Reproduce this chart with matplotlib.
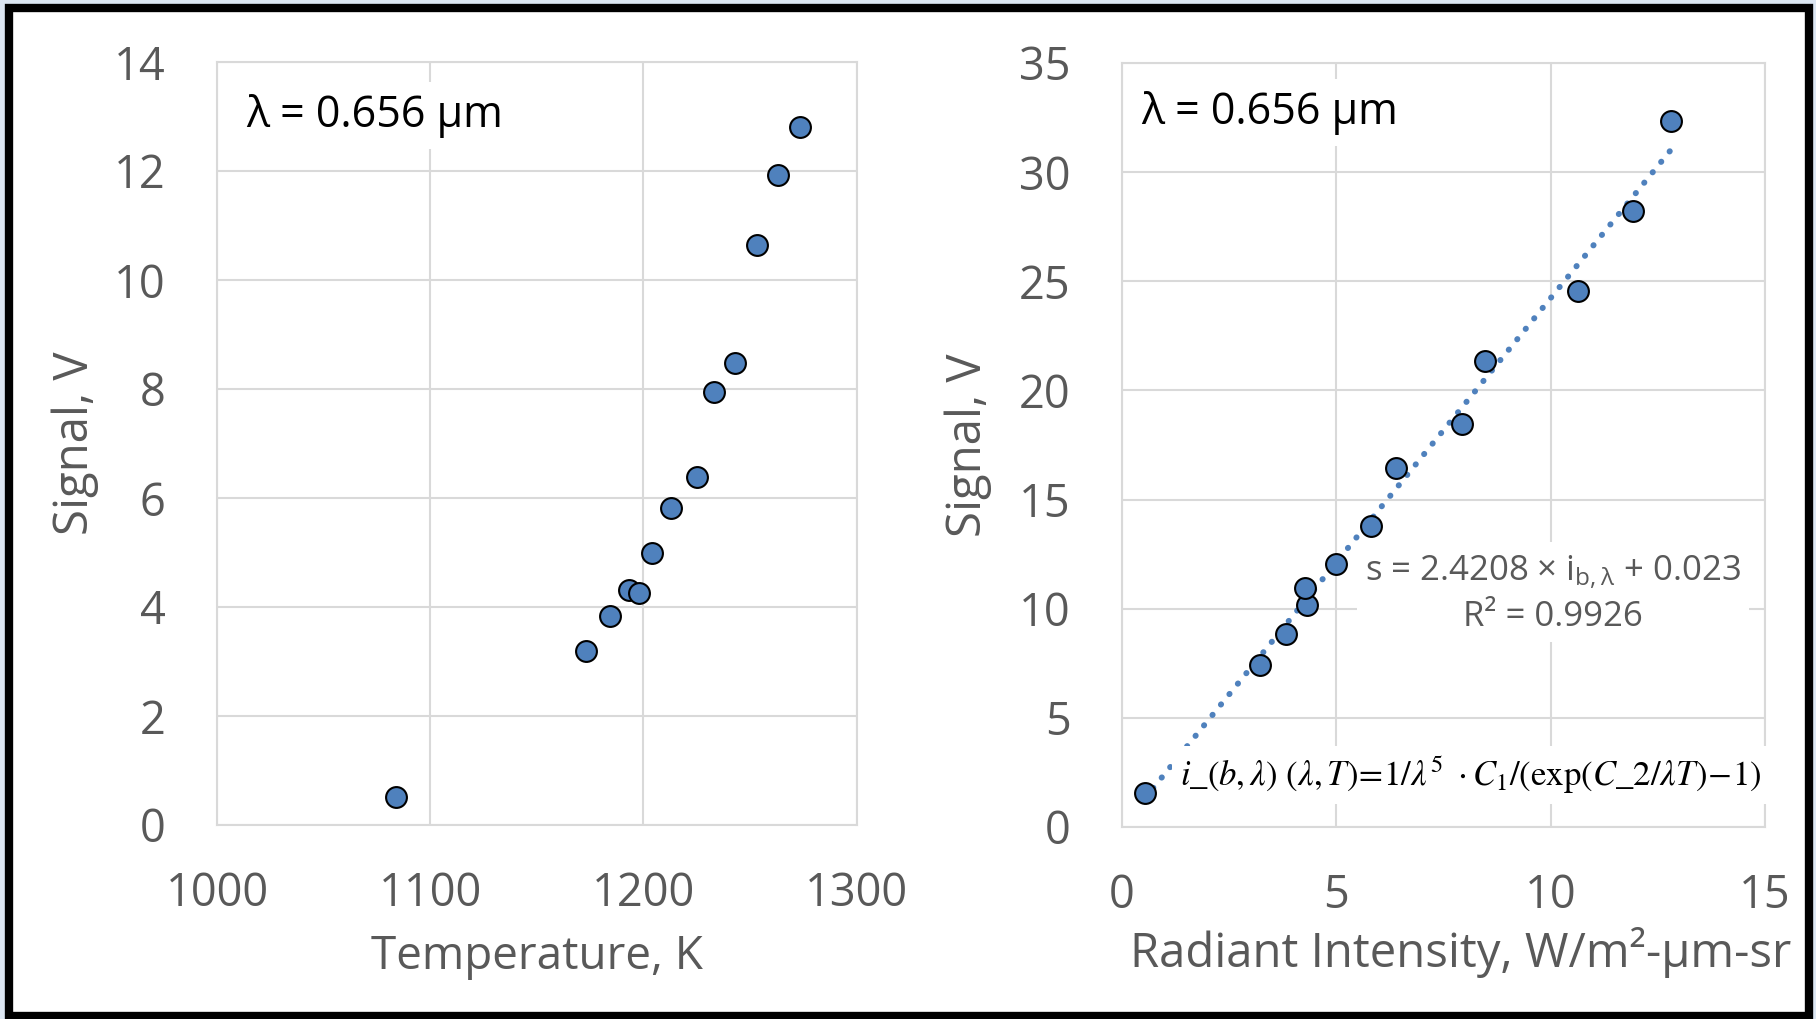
import numpy as np
import matplotlib
matplotlib.use("Agg")
import matplotlib.pyplot as plt
from matplotlib.patches import Rectangle

# data
temperature = [1084.0, 1173.2, 1184.2, 1193.4, 1197.9, 1203.9, 1213.0,
               1225.1, 1233.2, 1243.2, 1253.4, 1263.4, 1273.3]
signal_t = [0.52, 3.20, 3.84, 4.32, 4.26, 5.00, 5.81,
            6.38, 7.95, 8.47, 10.64, 11.93, 12.81]

intensity = [0.53, 3.22, 3.83, 4.32, 4.26, 5.00, 5.80,
             6.39, 7.94, 8.47, 10.63, 11.92, 12.81]
signal_i = [1.57, 7.43, 8.85, 10.19, 10.96, 12.06, 13.79,
            16.43, 18.48, 21.33, 24.54, 28.20, 32.35]

# trendline given on the chart
slope, intercept, r2 = 2.4208, 0.023, 0.9926

left_xticks = [1000, 1100, 1200, 1300]
left_yticks = [0, 2, 4, 6, 8, 10, 12, 14]
right_xticks = [0, 5, 10, 15]
right_yticks = [0, 5, 10, 15, 20, 25, 30, 35]

plt.rcParams['font.family'] = ['Open Sans', 'DejaVu Sans']
plt.rcParams['mathtext.fontset'] = 'custom'
plt.rcParams['mathtext.rm'] = 'Open Sans'
plt.rcParams['mathtext.it'] = 'Open Sans:italic'

GRAY = '#595959'
GRID = '#D9D9D9'
BLUE = '#4F81BD'

W, H = 1816, 1019
fig = plt.figure(figsize=(W / 100, H / 100), dpi=100)
fig.patch.set_facecolor('#DCE6F2')
fig.patches.append(Rectangle((9 / W, 3 / H), 1800 / W, 1008.5 / H,
                             transform=fig.transFigure, facecolor='white',
                             edgecolor='black', linewidth=6, zorder=-10))


def style_axes(ax, xticks, yticks):
    ax.set_facecolor('none')
    ax.set_xticks(xticks)
    ax.set_yticks(yticks)
    ax.set_xlim(xticks[0], xticks[-1])
    ax.set_ylim(yticks[0], yticks[-1])
    ax.grid(True, color=GRID, linewidth=1.5)
    ax.set_axisbelow(True)
    for s in ax.spines.values():
        s.set_color(GRID)
        s.set_linewidth(1.5)
    ax.tick_params(length=0, labelsize=32.5, labelcolor=GRAY)
    ax.tick_params(axis='y', pad=37)
    ax.tick_params(axis='x', pad=33)


# left: signal vs temperature
ax1 = fig.add_axes([217 / W, 1 - 825 / H, 639.5 / W, 763 / H])
style_axes(ax1, left_xticks, left_yticks)
ax1.plot(temperature, signal_t, 'o', ms=15, mfc=BLUE, mec='black', mew=1.5, zorder=3)
ax1.set_xlabel('Temperature, K', fontsize=33, color=GRAY)
ax1.set_ylabel('Signal, V', fontsize=34, color=GRAY)
ax1.xaxis.set_label_coords(0.5, -0.173)
ax1.xaxis.label.set_va('center')
ax1.yaxis.set_label_coords(-0.222, 0.5)
ax1.yaxis.label.set_va('center')
ax1.text(0.045, 0.93, 'λ = 0.656 μm', transform=ax1.transAxes, fontsize=31,
         color='black', va='center', ha='left', zorder=4,
         bbox=dict(facecolor='white', edgecolor='none', pad=8))

# right: signal vs radiant intensity
ax2 = fig.add_axes([1122 / W, 1 - 827 / H, 643 / W, 764 / H])
style_axes(ax2, right_xticks, right_yticks)
xs = np.array([min(intensity), max(intensity)])
ax2.plot(xs, slope * xs + intercept, color=BLUE, lw=4.3,
         linestyle=(0, (0.05, 2.2)), dash_capstyle='round', zorder=2)
ax2.plot(intensity, signal_i, 'o', ms=15, mfc=BLUE, mec='black', mew=1.5, zorder=3)
ax2.set_xlabel('Radiant Intensity, W/m²-μm-sr', fontsize=34, color=GRAY)
ax2.set_ylabel('Signal, V', fontsize=34, color=GRAY)
ax2.xaxis.set_label_coords(0.527, -0.164)
ax2.xaxis.label.set_va('center')
ax2.yaxis.set_label_coords(-0.2395, 0.5)
ax2.yaxis.label.set_va('center')
ax2.text(0.03, 0.935, 'λ = 0.656 μm', transform=ax2.transAxes, fontsize=31,
         color='black', va='center', ha='left', zorder=4,
         bbox=dict(facecolor='white', edgecolor='none', pad=8))
ax2.text(0.67, 0.306,
         's = %.4f × i$_{\\mathrm{b,λ}}$ + %.3f\nR² = %.4f' % (slope, intercept, r2),
         transform=ax2.transAxes, fontsize=25, color=GRAY, ha='center',
         va='center', linespacing=1.35, zorder=4,
         bbox=dict(facecolor='white', edgecolor='none', pad=6))
ax2.text(0.09, 0.068,
         r'$i\_(b,\lambda)\ (\lambda,T)\!=\!1/\lambda^5\ \cdot C_1/(\mathrm{exp}(C\_2/\lambda T)\!-\!1)$',
         transform=ax2.transAxes, fontsize=25, color='black', ha='left',
         va='center', math_fontfamily='stix', zorder=4,
         bbox=dict(facecolor='white', edgecolor='none', pad=6))

fig.savefig('out.png', dpi=100, facecolor=fig.get_facecolor())
